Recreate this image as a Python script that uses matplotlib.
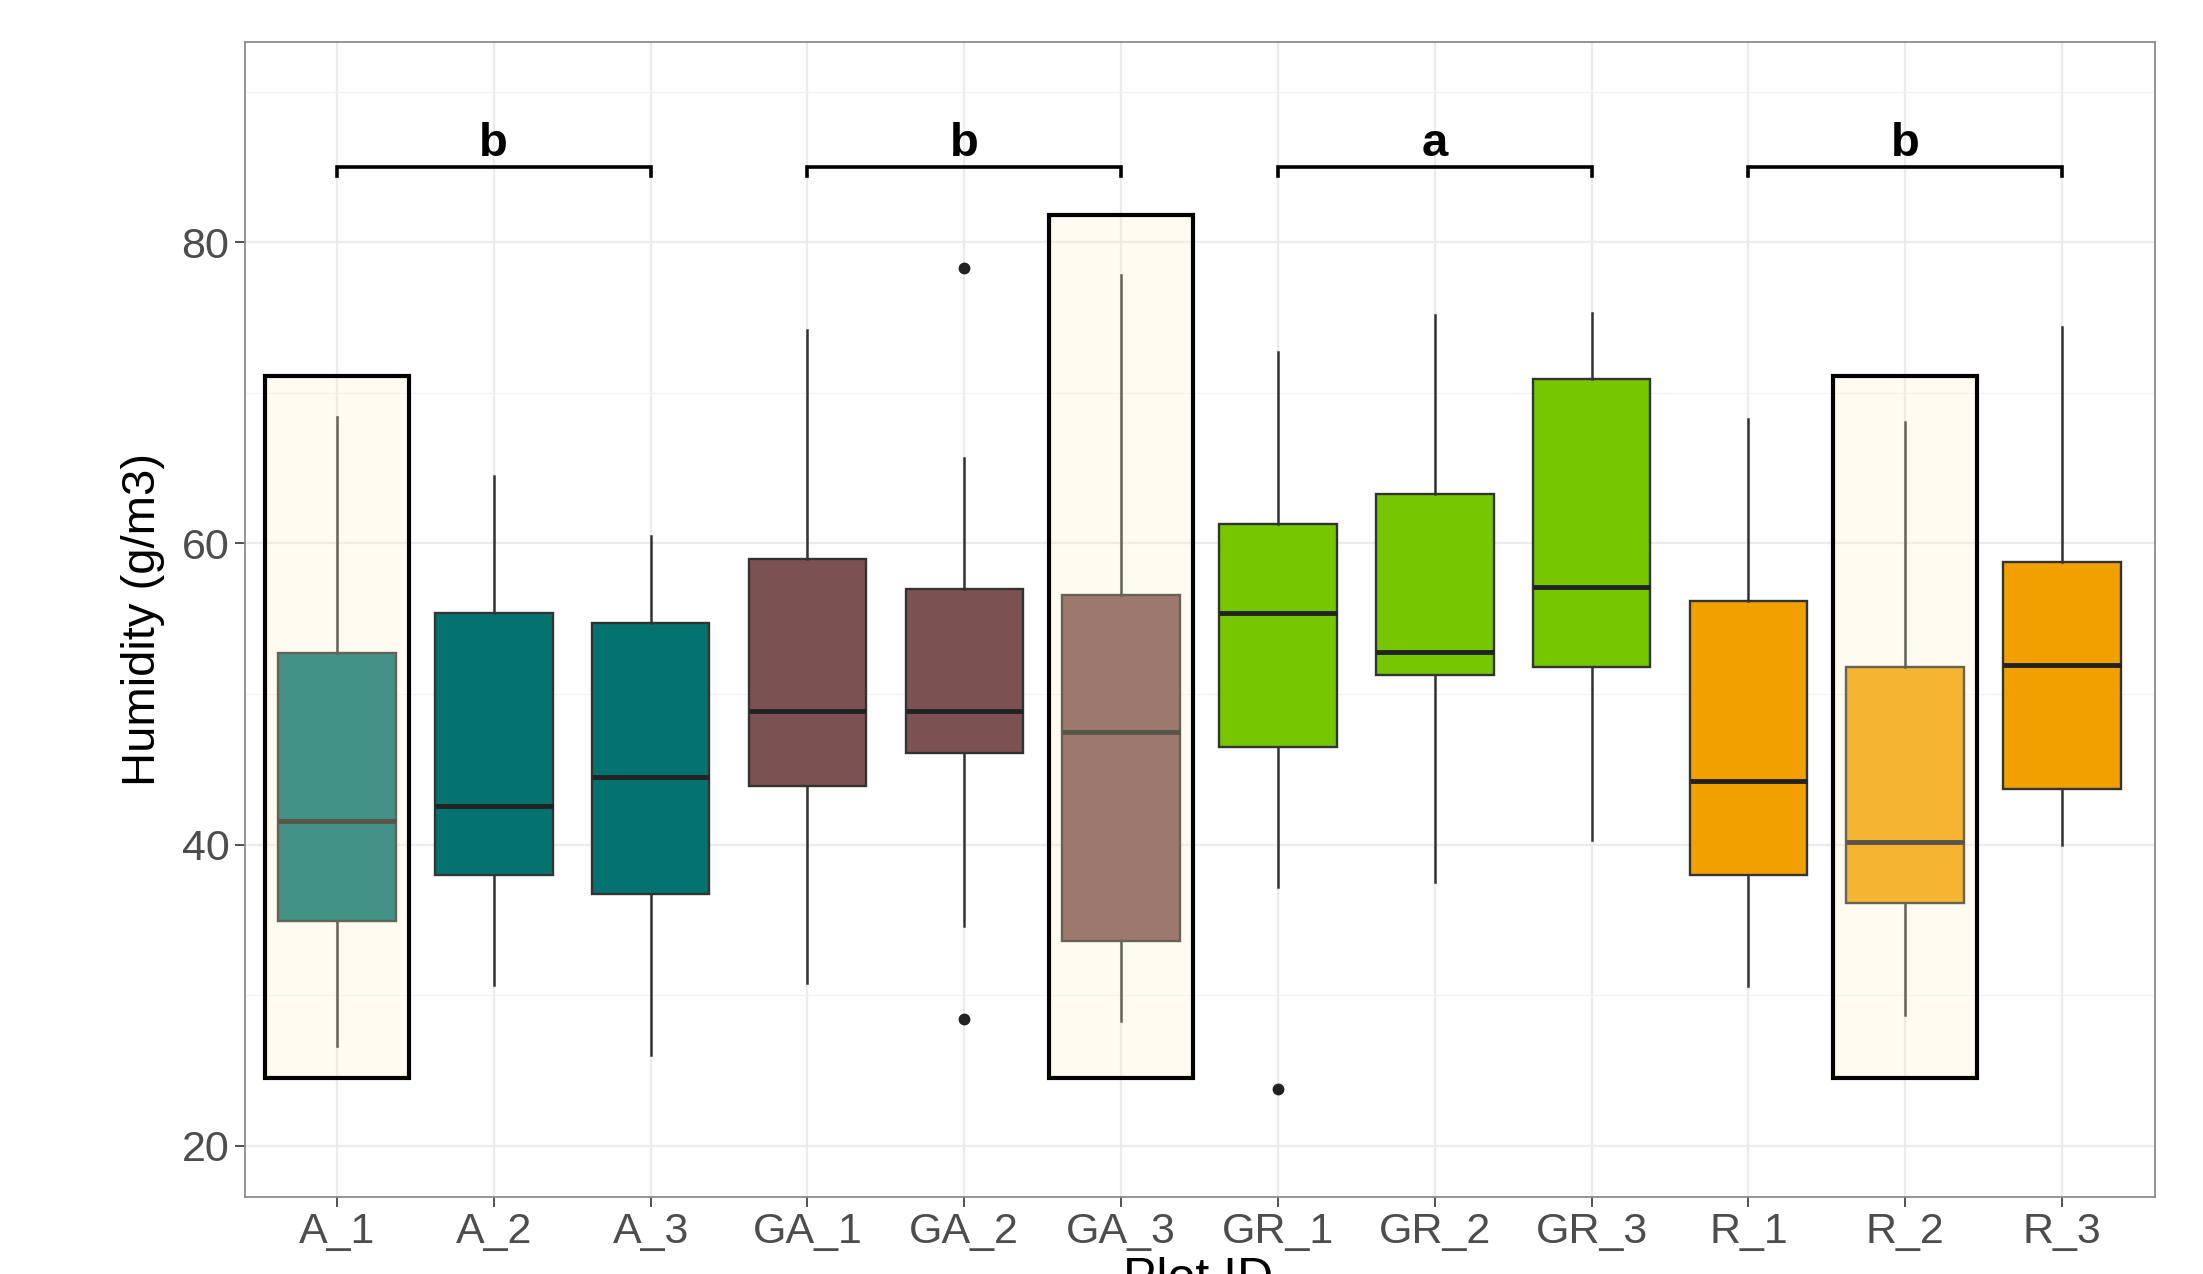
import numpy as np
import matplotlib
matplotlib.use("Agg")
import matplotlib.pyplot as plt
from matplotlib.patches import Rectangle

plt.rcParams['font.family'] = ['Liberation Sans', 'DejaVu Sans']

# plot ids and groups
plots = ["A_1", "A_2", "A_3", "GA_1", "GA_2", "GA_3",
         "GR_1", "GR_2", "GR_3", "R_1", "R_2", "R_3"]
groups = ["A", "A", "A", "GA", "GA", "GA", "GR", "GR", "GR", "R", "R", "R"]
group_colors = {"A": "#047370", "GA": "#7B5152", "GR": "#76C700", "R": "#F2A000"}

# box stats
whislo = [26.6, 30.7, 26.0, 30.8, 34.6, 28.3, 37.2, 37.5, 40.3, 30.6, 28.7, 40.0]
q1     = [34.9, 38.0, 36.7, 43.9, 46.1, 33.6, 46.5, 51.3, 51.8, 38.0, 36.1, 43.7]
med    = [41.6, 42.6, 44.5, 48.9, 48.9, 47.5, 55.4, 52.8, 57.1, 44.2, 40.2, 51.9]
q3     = [52.7, 55.4, 54.7, 59.0, 57.0, 56.6, 61.3, 63.3, 70.9, 56.2, 51.8, 58.8]
whishi = [68.4, 64.5, 60.5, 74.2, 65.7, 77.8, 72.7, 75.2, 75.3, 68.3, 68.1, 74.4]
fliers = [[], [], [], [], [78.3, 28.4], [], [23.8], [], [], [], [], []]

# highlighted plots (rectangle spans)
hl_plots = ["A_1", "GA_3", "R_2"]
hl_low = [24.5, 24.5, 24.5]
hl_high = [71.1, 81.8, 71.1]

# significance brackets
bracket_groups = [("A_1", "A_3"), ("GA_1", "GA_3"), ("GR_1", "GR_3"), ("R_1", "R_3")]
bracket_letters = ["b", "b", "a", "b"]
bracket_y = 85.0

fig = plt.figure(figsize=(22.03, 12.74), dpi=100)
ax = fig.add_axes([0.111, 0.0604, 0.867, 0.9066])

pos = np.arange(1, len(plots) + 1)
stats = []
for i, p in enumerate(plots):
    stats.append(dict(label=p, whislo=whislo[i], q1=q1[i], med=med[i],
                      q3=q3[i], whishi=whishi[i], fliers=fliers[i]))

bp = ax.bxp(stats, positions=pos, widths=0.75, patch_artist=True, showcaps=False,
            boxprops=dict(edgecolor="#333333", linewidth=1.7),
            whiskerprops=dict(color="#333333", linewidth=1.8),
            medianprops=dict(color="#222222", linewidth=3.5),
            flierprops=dict(marker="o", markerfacecolor="#222222",
                            markeredgecolor="#222222", markersize=7.5))
for patch, g in zip(bp["boxes"], groups):
    patch.set_facecolor(group_colors[g])
    patch.set_zorder(3)
for line in bp["whiskers"] + bp["medians"] + bp["fliers"]:
    line.set_zorder(3)

# translucent highlight rectangles
for p, lo, hi in zip(hl_plots, hl_low, hl_high):
    x = plots.index(p) + 1
    ax.add_patch(Rectangle((x - 0.46, lo), 0.92, hi - lo,
                           facecolor=(1.0, 0.94, 0.78, 0.25),
                           edgecolor="black", linewidth=3, zorder=4))

# brackets with letters
for (a, b), letter in zip(bracket_groups, bracket_letters):
    x0 = plots.index(a) + 1
    x1 = plots.index(b) + 1
    ax.plot([x0, x0, x1, x1], [bracket_y - 0.6, bracket_y, bracket_y, bracket_y - 0.6],
            color="black", linewidth=2.6, zorder=5, solid_joinstyle="miter")
    ax.text((x0 + x1) / 2, bracket_y + 0.1, letter, ha="center", va="bottom",
            fontsize=34, fontweight="bold", color="black")

ax.set_xlim(0.41, 12.59)
ax.set_ylim(16.6, 93.3)
ax.set_xticks(pos)
ax.set_xticklabels(plots)
ax.set_yticks([20, 40, 60, 80])
ax.set_yticks([30, 50, 70, 90], minor=True)
ax.tick_params(axis="both", which="major", labelsize=31, colors="#333333",
               labelcolor="#4D4D4D", length=7, width=1.2, pad=4)
ax.tick_params(axis="y", which="minor", length=0)

ax.grid(True, which="major", color="#EBEBEB", linewidth=1.6, zorder=0)
ax.grid(True, which="minor", axis="y", color="#F2F2F2", linewidth=0.9, zorder=0)
ax.set_axisbelow(True)
for s in ax.spines.values():
    s.set_color("#8C8C8C")
    s.set_linewidth(1.3)

ax.set_ylabel("Humidity (g/m3)", fontsize=34, color="black", labelpad=12)
fig.text(0.544, 0.013, "Plot ID", ha="center", va="top", fontsize=36, color="black")

fig.savefig("out.png", dpi=100)
